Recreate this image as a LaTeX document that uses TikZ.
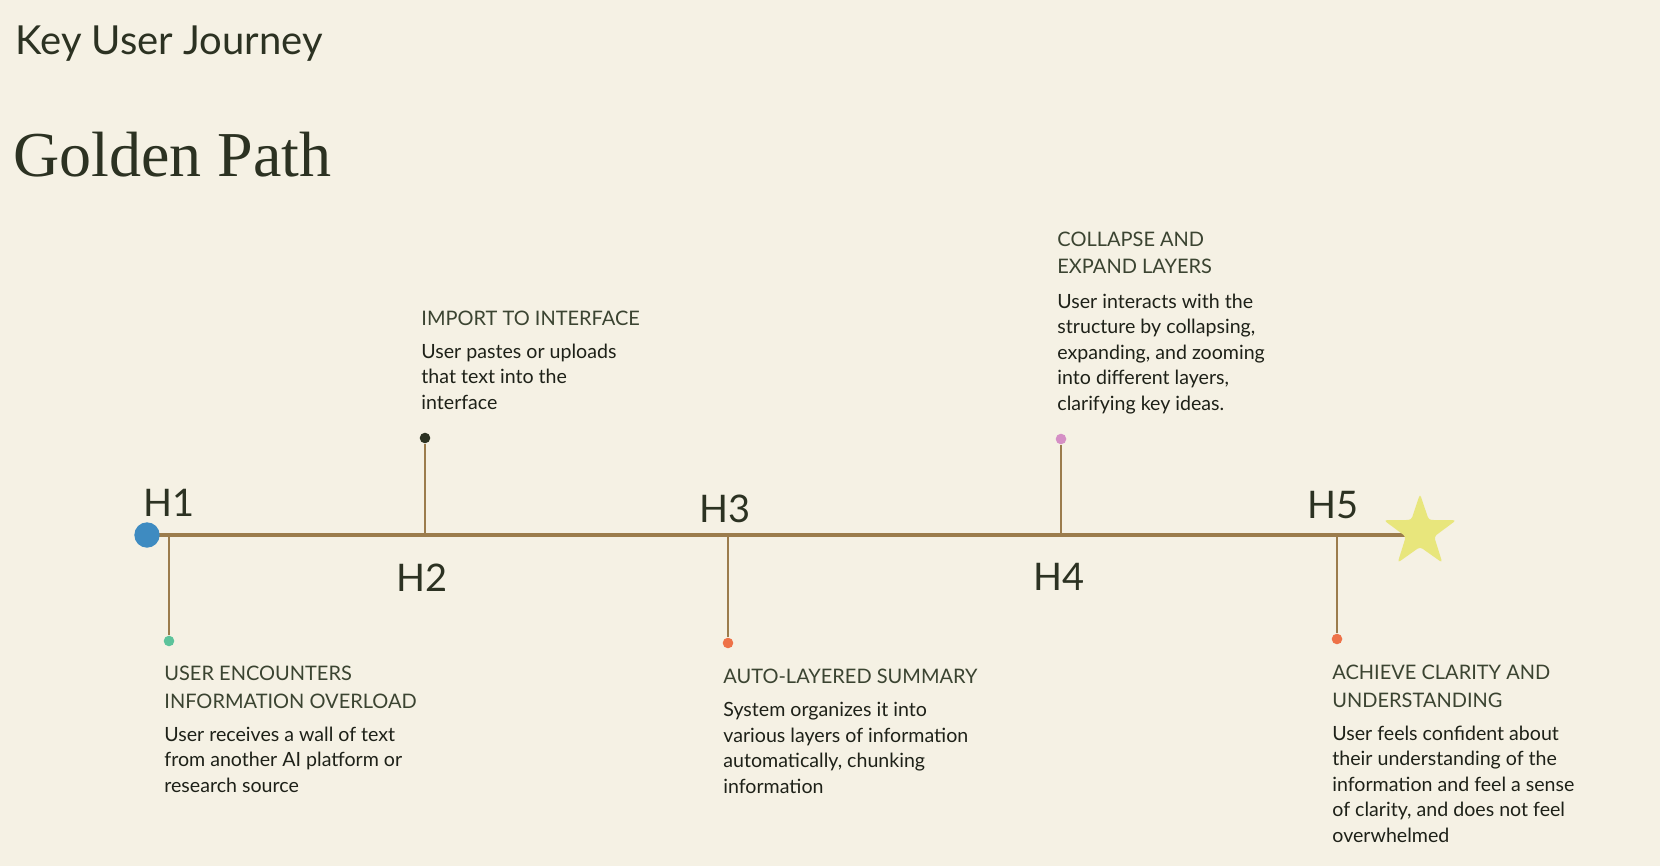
\documentclass[tikz,border=0pt]{standalone}
\usepackage{fontspec}
\setmainfont{Lato}
\newfontfamily\goldenfont{Liberation Serif}
\usepackage {tikz}
\usetikzlibrary{shapes.geometric}
\usetikzlibrary {positioning}
\definecolor{paper}{HTML}{F5F1E4}
\definecolor{ink}{HTML}{2C3222}
\definecolor{olive}{HTML}{3B4431}
\definecolor{bodyink}{HTML}{1E2118}
\definecolor{rope}{HTML}{9B7C4C}
\definecolor{startblue}{HTML}{3E8BC1}
\definecolor{mint}{HTML}{5CC39B}
\definecolor{coral}{HTML}{EE7248}
\definecolor{orchid}{HTML}{D58FC5}
\definecolor{lemon}{HTML}{E8E67C}

\begin{document}
\begin{tikzpicture}[x=0.5pt,y=-0.5pt]
\tikzstyle{mainline} = [rope,line width=1.6pt]
\tikzstyle{stem} = [rope,line width=0.75pt]
\tikzstyle{pin} = [circle,inner sep=0pt,minimum size=5.3pt]
\tikzstyle{hlabel} = [anchor=base,inner sep=0pt,text=ink,font=\fontsize{19}{19}\selectfont]
\tikzstyle{heading} = [anchor=base west,inner sep=0pt,align=left,text=olive,font=\fontsize{10}{13.6}\selectfont]
\tikzstyle{body} = [anchor=base west,inner sep=0pt,align=left,text=bodyink,font=\fontsize{9.8}{12.75}\selectfont]

%Background and page size
\fill[paper] (0,0) rectangle (1660,866);
\useasboundingbox (0,0) rectangle (1660,866);

%Titles
\node[anchor=base west,inner sep=0pt,text=ink,font=\fontsize{20}{20}\selectfont] (title) at (15,55) {Key User Journey};
\node[anchor=base west,inner sep=0pt,text=ink,font=\goldenfont\fontsize{32}{32}\selectfont] (golden) at (13,177) {Golden Path};

%Points on the timeline
\coordinate (start) at (147,535);
\coordinate (finish) at (1420,535);
\coordinate (s1) at (169,535);
\coordinate (s2) at (425,535);
\coordinate (s3) at (728,535);
\coordinate (s4) at (1061,535);
\coordinate (s5) at (1337,535);

%The timeline itself
\draw[mainline] (start) -- (finish);

%Stems down and up to the pins
\node[pin,fill=mint] (p1) at (169,641) {};
\node[pin,fill=ink] (p2) at (425,438) {};
\node[pin,fill=coral] (p3) at (728,643) {};
\node[pin,fill=orchid] (p4) at (1061,439) {};
\node[pin,fill=coral] (p5) at (1337,639) {};
\draw[stem] (s1) -- (p1);
\draw[stem] (s2) -- (p2);
\draw[stem] (s3) -- (p3);
\draw[stem] (s4) -- (p4);
\draw[stem] (s5) -- (p5);

%Start dot and goal star
\node[circle,fill=startblue,inner sep=0pt,minimum size=12.7pt] (h1dot) at (start) {};
\node[star,star points=5,star point ratio=2.55,fill=lemon,inner sep=0pt,minimum size=38pt,rounded corners=1.5pt] (goal) at (1420,532) {};

%Step labels
\node[hlabel] (h1) at (169,516) {H1};
\node[hlabel] (h2) at (422,591) {H2};
\node[hlabel] (h3) at (725,522) {H3};
\node[hlabel] (h4) at (1059,590) {H4};
\node[hlabel] (h5) at (1333,518) {H5};

%Step 1 (anchored on the last line)
\node[heading] (t1) at (164,708) {USER ENCOUNTERS\\INFORMATION OVERLOAD};
\node[body] (b1) at (164,792) {User receives a wall of text\\from another AI platform or\\research source};

%Step 2
\node[heading] (t2) at (421,326) {IMPORT TO INTERFACE};
\node[body] (b2) at (421,409) {User pastes or uploads\\that text into the\\interface};

%Step 3
\node[heading] (t3) at (723,683) {AUTO-LAYERED SUMMARY};
\node[body] (b3) at (723,793) {System organizes it into\\various layers of information\\automatically, chunking\\information};

%Step 4
\node[heading] (t4) at (1057,274) {COLLAPSE AND\\EXPAND LAYERS};
\node[body] (b4) at (1057,410) {User interacts with the\\structure by collapsing,\\expanding, and zooming\\into different layers,\\clarifying key ideas.};

%Step 5
\node[heading] (t5) at (1332,707) {ACHIEVE CLARITY AND\\UNDERSTANDING};
\node[body] (b5) at (1332,842) {User feels confident about\\their understanding of the\\information and feel a sense\\of clarity, and does not feel\\overwhelmed};

\end{tikzpicture}
\end{document}
